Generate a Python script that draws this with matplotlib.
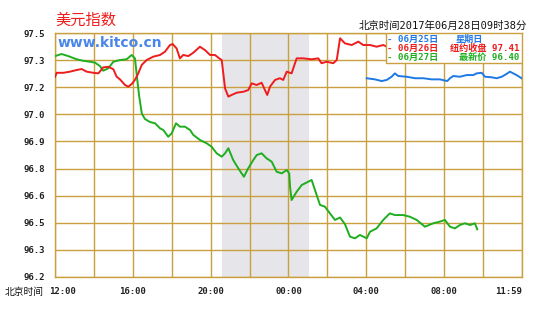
import numpy as np
import matplotlib
matplotlib.use("Agg")
import matplotlib.pyplot as plt
from matplotlib.patches import Rectangle

plt.rcParams['font.family'] = ['DejaVu Sans Mono', 'Noto Sans CJK SC']

# hours after 12:00 Beijing time
red_h = [0, 0.09, 0.43, 0.77, 1.12, 1.37, 1.63, 1.97, 2.23, 2.48, 2.74, 3.0, 3.17, 3.34,
         3.6, 3.77, 3.94, 4.11, 4.28, 4.46, 4.71, 5.05, 5.4, 5.65, 5.91, 6.05, 6.25, 6.42,
         6.59, 6.85, 7.11, 7.45, 7.71, 7.97, 8.22, 8.44, 8.57, 8.65, 8.74, 8.91, 9.08, 9.34,
         9.68, 9.93, 10.11, 10.36, 10.62, 10.79, 10.91, 11.05, 11.31, 11.56, 11.73, 11.91,
         12.16, 12.42, 12.76, 13.19, 13.53, 13.7, 13.96, 14.3, 14.48, 14.65, 14.9, 15.25,
         15.59, 15.84, 16.19, 16.53, 16.87, 17.0]
red_v = [97.266, 97.288, 97.288, 97.294, 97.303, 97.308, 97.294, 97.288, 97.285, 97.317,
         97.32, 97.307, 97.267, 97.253, 97.223, 97.214, 97.228, 97.25, 97.285, 97.33,
         97.356, 97.374, 97.383, 97.4, 97.436, 97.441, 97.418, 97.365, 97.383, 97.377,
         97.395, 97.427, 97.409, 97.383, 97.383, 97.365, 97.356, 97.285, 97.205, 97.161,
         97.17, 97.182, 97.187, 97.196, 97.232, 97.223, 97.235, 97.196, 97.17, 97.214,
         97.25, 97.259, 97.25, 97.294, 97.285, 97.365, 97.365, 97.36, 97.365, 97.339,
         97.347, 97.339, 97.356, 97.472, 97.445, 97.436, 97.454, 97.436, 97.436, 97.427,
         97.436, 97.43]

green_h = [0, 0.34, 0.68, 1.12, 1.45, 1.8, 2.06, 2.31, 2.48, 2.74, 3.0, 3.34, 3.68, 3.94,
           4.11, 4.23, 4.33, 4.46, 4.62, 4.88, 5.14, 5.4, 5.57, 5.82, 6.0, 6.22, 6.42, 6.68,
           6.94, 7.11, 7.45, 7.8, 8.05, 8.31, 8.57, 8.74, 8.91, 9.16, 9.42, 9.71, 9.93,
           10.19, 10.37, 10.62, 10.88, 11.14, 11.39, 11.65, 11.91, 12.04, 12.08, 12.16,
           12.42, 12.68, 13.02, 13.19, 13.36, 13.62, 13.87, 14.13, 14.39, 14.65, 14.9,
           15.16, 15.42, 15.67, 16.02, 16.19, 16.53, 16.87, 17.21, 17.47, 17.9, 18.24,
           18.59, 19.01, 19.44, 19.78, 20.04, 20.3, 20.55, 20.81, 21.07, 21.33, 21.58, 21.7]
green_v = [97.377, 97.388, 97.377, 97.36, 97.352, 97.347, 97.342, 97.324, 97.299, 97.312,
           97.347, 97.356, 97.36, 97.383, 97.365, 97.25, 97.161, 97.072, 97.042, 97.026,
           97.019, 96.992, 96.983, 96.947, 96.966, 97.019, 97.001, 97.001, 96.983, 96.957,
           96.93, 96.912, 96.894, 96.859, 96.841, 96.859, 96.886, 96.823, 96.779, 96.734,
           96.779, 96.823, 96.85, 96.859, 96.832, 96.814, 96.761, 96.752, 96.77, 96.752,
           96.681, 96.61, 96.654, 96.69, 96.708, 96.717, 96.664, 96.584, 96.575, 96.539,
           96.504, 96.517, 96.482, 96.415, 96.406, 96.424, 96.406, 96.441, 96.459, 96.504,
           96.539, 96.53, 96.53, 96.521, 96.504, 96.468, 96.486, 96.495, 96.504, 96.468,
           96.459, 96.477, 96.486, 96.477, 96.486, 96.454]

blue_h = [16.02, 16.44, 16.79, 17.05, 17.3, 17.47, 17.64, 18.07, 18.5, 18.93, 19.36, 19.78,
          20.16, 20.3, 20.47, 20.81, 21.16, 21.5, 21.67, 21.93, 22.1, 22.44, 22.7, 22.96,
          23.21, 23.38, 23.55, 23.72, 23.98]
blue_v = [97.259, 97.253, 97.244, 97.25, 97.267, 97.285, 97.271, 97.267, 97.259, 97.259,
          97.253, 97.253, 97.244, 97.259, 97.271, 97.267, 97.276, 97.276, 97.285, 97.288,
          97.267, 97.264, 97.259, 97.267, 97.282, 97.294, 97.285, 97.276, 97.259]

ytick_labels = ['96.2', '96.3', '96.5', '96.6', '96.8', '96.9', '97.0', '97.2', '97.3', '97.5']
xtick_pos = [0, 4, 8, 12, 16, 20, 24]
xtick_labels = ['12:00', '16:00', '20:00', '00:00', '04:00', '08:00', '11:59']
shade = (8.6, 13.05)

gold = '#c9a040'
red = '#ee1c1c'
green = '#1fae1f'
blue = '#1f78e6'

fig = plt.figure(figsize=(5.46, 3.12), dpi=100)
ax = fig.add_axes([0.1007, 0.1122, 0.8553, 0.782])

ax.axvspan(shade[0], shade[1], color='#e6e5ea', lw=0, zorder=0)
ax.plot(blue_h, blue_v, color=blue, lw=1.4, zorder=3)
ax.plot(green_h, green_v, color=green, lw=1.4, zorder=3)
ax.plot(red_h, red_v, color=red, lw=1.4, zorder=3)

ax.set_xlim(0, 24)
ax.set_ylim(96.2, 97.5)
yt = np.linspace(96.2, 97.5, 10)
ax.set_yticks(yt)
ax.set_yticklabels(ytick_labels)
ax.set_xticks(np.arange(0, 25, 2), minor=False)
ax.set_xticklabels([''] * 13)
for h, lab in zip(xtick_pos, xtick_labels):
    ha = 'center'
    dx = 0
    if h == 0:
        ha = 'left'
        dx = -0.3
    if h == 24:
        ha = 'right'
    ax.text(h + dx, -0.06, lab, transform=ax.get_xaxis_transform(), ha=ha, va='center',
            fontsize=6.5, fontweight='bold', color='#222222')
ax.grid(True, color=gold, lw=1.0, zorder=1)
ax.set_axisbelow(True)
for s in ax.spines.values():
    s.set_color(gold)
    s.set_linewidth(1.0)
ax.tick_params(length=0, pad=7, labelsize=6.5, labelcolor='#222222')
for t in ax.get_yticklabels():
    t.set_fontweight('bold')

# legend box
ax.add_patch(Rectangle((0.709, 0.877), 0.291, 0.123, transform=ax.transAxes,
                       facecolor='white', edgecolor=gold, lw=1.0, zorder=5))
rows = [('- 06月25日', '星期日', blue, 0.975),
        ('- 06月26日', '纽约收盘 97.41', red, 0.936),
        ('- 06月27日', '最新价 96.40', green, 0.898)]
for left, right, c, y in rows:
    ax.text(0.712, y, left, transform=ax.transAxes, color=c, fontsize=6.6,
            fontweight='bold', va='center', ha='left', zorder=6)
    if right == '星期日':
        ax.text(0.857, y, right, transform=ax.transAxes, color=c, fontsize=6.6,
                fontweight='bold', va='center', ha='left', zorder=6)
    else:
        ax.text(0.994, y, right, transform=ax.transAxes, color=c, fontsize=6.6,
                fontweight='bold', va='center', ha='right', zorder=6)

ax.text(0.006, 0.959, 'www.kitco.cn', transform=ax.transAxes, color='#4a86e8',
        fontsize=10, fontweight='bold', family='DejaVu Sans', va='center', ha='left', zorder=6)

fig.text(0.1007, 0.936, '美元指数', color=red, fontsize=11, family='Noto Sans CJK SC',
         va='center', ha='left')
fig.text(0.965, 0.917, '北京时间2017年06月28日09时38分', color='#111111', fontsize=7.5,
         va='center', ha='right')
fig.text(0.009, 0.064, '北京时间', color='#111111', fontsize=7, family='Noto Sans CJK SC',
         va='center', ha='left')

fig.savefig('out.png', dpi=100, facecolor='white')
